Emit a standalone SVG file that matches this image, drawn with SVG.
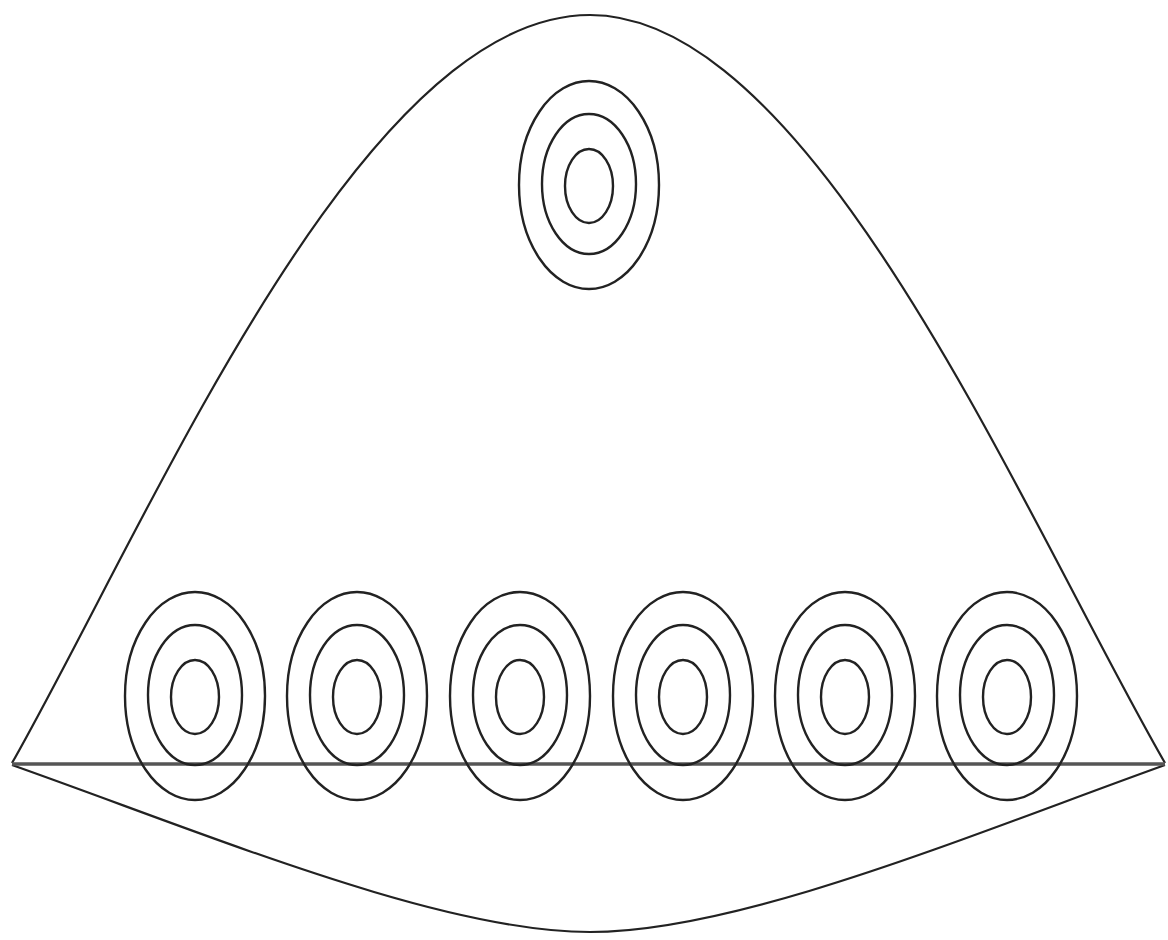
<svg xmlns="http://www.w3.org/2000/svg" width="1168" height="940" viewBox="0 0 1168 940">
<style>
.c{fill:none;stroke:#222;stroke-width:2.4}
.o{fill:none;stroke:#222;stroke-width:2.2}
</style>
<defs>
<g id="rings">
<ellipse class="c" cx="0" cy="0" rx="70" ry="104"/>
<ellipse class="c" cx="0" cy="-1" rx="47" ry="70"/>
<ellipse class="c" cx="0" cy="1" rx="24" ry="37"/>
</g>
</defs>
<rect width="1168" height="940" fill="#fff"/>
<g id="outline">
<path class="o" d="M12,763 C150,520 360,15 590,15 C815,15 1025,520 1165,763"/>
<path class="o" d="M12,765 C210,835 440,932 590,932 C740,932 970,835 1165,765"/>
<line x1="12" y1="764" x2="1165" y2="764" stroke="#555" stroke-width="3.5"/>
</g>
<g id="top-rings"><use href="#rings" x="589" y="185"/></g>
<g id="bottom-rings">
<use href="#rings" x="195" y="696"/>
<use href="#rings" x="357" y="696"/>
<use href="#rings" x="520" y="696"/>
<use href="#rings" x="683" y="696"/>
<use href="#rings" x="845" y="696"/>
<use href="#rings" x="1007" y="696"/>
</g>
</svg>
